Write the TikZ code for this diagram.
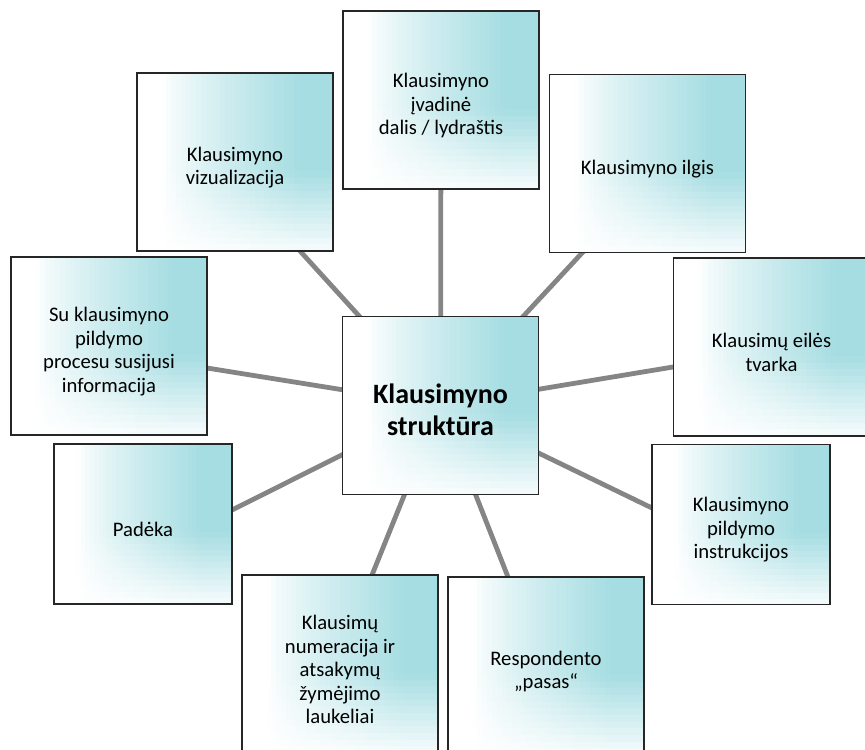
\documentclass[tikz,border=0pt]{standalone}
\usepackage{fontspec}
\setmainfont{Carlito}
\usetikzlibrary{backgrounds,calc}
\definecolor{tealc}{RGB}{166,221,226}
\definecolor{linkc}{RGB}{133,133,133}
\newcommand{\tstrut}{\rule{0pt}{19pt}}
\newcommand{\hstrut}{\rule{0pt}{21.5pt}}
\begin{document}
\begin{tikzpicture}[x=0.75pt,y=-0.75pt,
  box/.style={draw=black!85, line width=1.1pt, fill=white, rectangle, inner sep=0pt,
    align=center, font=\fontsize{15.5}{17.6}\selectfont,
    minimum width=147pt, minimum height=133.5pt,
    path picture={
      \coordinate (gnw) at (path picture bounding box.north west);
      \coordinate (gne) at (path picture bounding box.north east);
      \coordinate (gsw) at (path picture bounding box.south west);
      \coordinate (gse) at (path picture bounding box.south east);
      \foreach \i in {0,...,39}{
        \pgfmathsetmacro\fa{\i/40}
        \pgfmathsetmacro\fb{min(1,(\i+1.5)/40)}
        \pgfmathsetmacro\pc{100*(min(1,max(0,(\fa+1/80-0.13)/0.7)))^0.8}
        \fill[tealc!\pc!white] ($(gnw)!\fa!(gne)$) rectangle ($(gsw)!\fb!(gse)$);
        \foreach \j in {0,...,11}{
          \pgfmathsetmacro\ya{0.55+0.45*\j/12}
          \pgfmathsetmacro\pv{\pc*(1-0.9*(\j+0.5)/12)}
          \fill[tealc!\pv!white] ($($(gnw)!\fa!(gne)$)!\ya!($(gsw)!\fa!(gse)$)$) rectangle ($(gsw)!\fb!(gse)$);
        }
      }}},
  smallbox/.style={box, minimum width=133.5pt, minimum height=120pt},
  hub/.style={box, font=\fontsize{21}{24}\selectfont\bfseries},
  link/.style={draw=linkc, line width=3.6pt}]
\useasboundingbox (0,0) rectangle (865,750);
\clip (0,0) rectangle (865,750);

\node[hub] (c) at (440.5,405.5) {\hstrut Klausimyno\\struktūra};
\node[box] (t) at (441,100) {\tstrut Klausimyno\\įvadinė\\dalis / lydraštis};
\node[box] (viz) at (235,162) {\tstrut Klausimyno\\vizualizacija};
\node[box] (ilg) at (647.5,163.5) {\tstrut Klausimyno ilgis};
\node[box] (su) at (109,346) {\tstrut Su klausimyno\\pildymo\\procesu susijusi\\informacija};
\node[box] (eil) at (771.5,347) {\tstrut Klausimų eilės\\tvarka};
\node[smallbox] (pad) at (143,524) {\tstrut Padėka};
\node[smallbox] (ins) at (741,524.5) {\tstrut Klausimyno\\pildymo\\instrukcijos};
\node[box] (num) at (340,664) {\tstrut Klausimų\\numeracija ir\\atsakymų\\žymėjimo\\laukeliai};
\node[box] (res) at (546,666) {\tstrut Respondento\\„pasas“};

\coordinate (pviz) at (300,251);
\coordinate (pilg) at (582,253);
\coordinate (psu) at (207,368);
\coordinate (peil) at (673,367);
\coordinate (ppad) at (232,510);
\coordinate (pins) at (652,508);
\coordinate (pnum) at (372,575);
\coordinate (pres) at (508,577);

\begin{pgfonlayer}{background}
\draw[link] (c.center) -- (t.center);
\foreach \p in {pviz,pilg,psu,peil,ppad,pins,pnum,pres}{
  \draw[link] (c.center) -- ($(c.center)!1.1!(\p)$);
}
\end{pgfonlayer}
\end{tikzpicture}
\end{document}
